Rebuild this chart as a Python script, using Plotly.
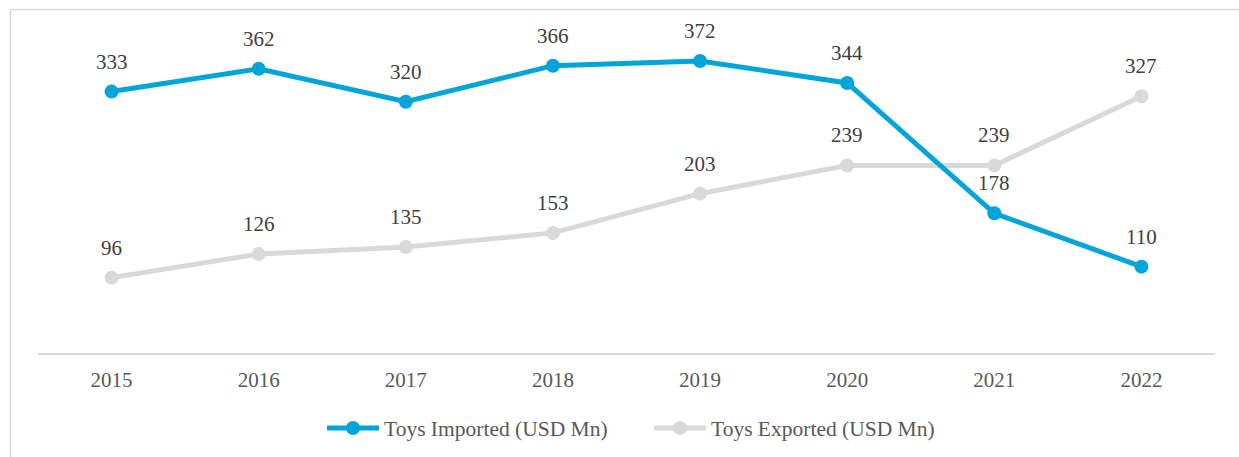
import plotly.graph_objects as go

years = ["2015", "2016", "2017", "2018", "2019", "2020", "2021", "2022"]
imported = [333, 362, 320, 366, 372, 344, 178, 110]
exported = [96, 126, 135, 153, 203, 239, 239, 327]

BLUE = "#02A5DA"
GREY = "#D9D9D9"
FONT = "Liberation Serif, Times New Roman, serif"

W, H = 1239, 457
ML, MR, MT, MB = 38, 24, 39, 104
Y_MAX = 400

fig = go.Figure()

fig.add_trace(go.Scatter(
    x=years, y=exported, mode="lines+markers", name="Toys Exported (USD Mn)",
    line=dict(color=GREY, width=5), marker=dict(color=GREY, size=14),
    legendrank=2, hoverinfo="skip",
))
fig.add_trace(go.Scatter(
    x=years, y=imported, mode="lines+markers", name="Toys Imported (USD Mn)",
    line=dict(color=BLUE, width=5), marker=dict(color=BLUE, size=14),
    legendrank=1, hoverinfo="skip",
))

# value labels above each point (category index used for x position)
for series in (imported, exported):
    for i, v in enumerate(series):
        fig.add_annotation(
            x=i, y=v, text=str(v), showarrow=False, yshift=30,
            font=dict(family=FONT, size=21, color="#404040"),
        )

# light frame around the chart (top and left edges visible)
pw = W - ML - MR
ph = H - MT - MB
fig.add_shape(
    type="rect", xref="paper", yref="paper",
    x0=(10.5 - ML) / pw, x1=(W + 10 - ML) / pw,
    y0=-(MB + 10) / ph, y1=(H - MB - 9.5) / ph,
    line=dict(color="#D9D9D9", width=1.5), fillcolor="rgba(0,0,0,0)",
    layer="below",
)

fig.update_layout(
    width=W, height=H,
    margin=dict(l=ML, r=MR, t=MT, b=MB),
    paper_bgcolor="white", plot_bgcolor="white",
    font=dict(family=FONT, size=21, color="#595959"),
    showlegend=True,
    legend=dict(
        orientation="h", xref="container", x=322 / W, xanchor="left",
        yref="container", y=(H - 428) / H, yanchor="middle",
        font=dict(family=FONT, size=21.5, color="#595959"),
        itemwidth=52, entrywidth=260, entrywidthmode="pixels",
    ),
    xaxis=dict(
        type="category", showgrid=False, zeroline=False,
        showline=True, linecolor="#D9D9D9", linewidth=1.5,
        ticks="", tickfont=dict(family=FONT, size=21, color="#595959"),
        ticklabelstandoff=7,
        range=[-0.5, len(years) - 0.5], fixedrange=True,
    ),
    yaxis=dict(
        range=[0, Y_MAX], showgrid=False, zeroline=False, showline=False,
        showticklabels=False, ticks="", fixedrange=True,
    ),
)

fig.write_html("out.html")
